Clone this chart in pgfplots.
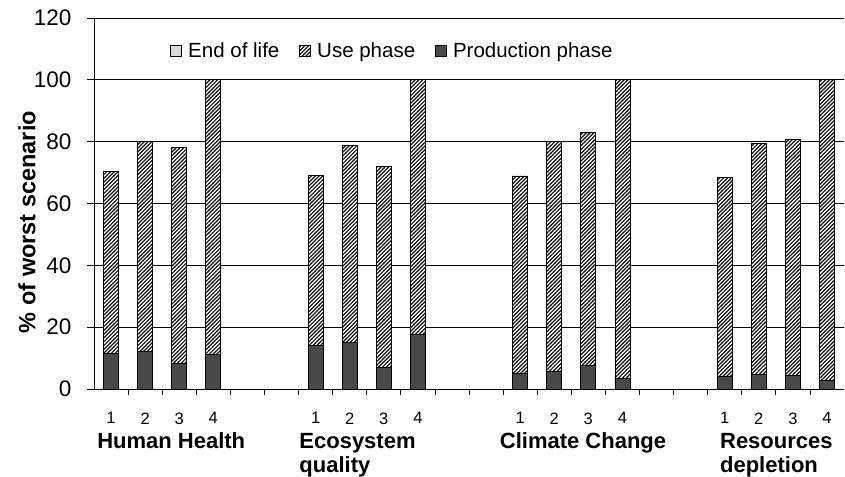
\documentclass[border=0pt]{standalone}
\usepackage{fontspec}
\setmainfont{Liberation Sans}
\usepackage{pgfplots}
\pgfplotsset{compat=1.18}
\usetikzlibrary{patterns}
\definecolor{prod}{HTML}{484848}
\definecolor{eol}{HTML}{DADADA}
\pgfdeclarepatternformonly{hatch}{\pgfqpoint{-1pt}{-1pt}}{\pgfqpoint{4.8pt}{4.8pt}}{\pgfqpoint{3.8pt}{3.8pt}}{%
  \pgfsetlinewidth{1.2pt}%
  \pgfpathmoveto{\pgfqpoint{-0.2pt}{-0.2pt}}%
  \pgfpathlineto{\pgfqpoint{4.0pt}{4.0pt}}%
  \pgfusepath{stroke}}
\tikzset{
  prodstyle/.style={fill=prod, draw=black, line width=0.8pt},
  usestyle/.style={fill=white, draw=black, line width=0.8pt,
    postaction={pattern=hatch, pattern color=black!90}},
  eolstyle/.style={fill=eol, draw=black, line width=0.8pt},
}
\begin{document}
\begin{tikzpicture}
\useasboundingbox (-94pt,-87pt) rectangle (751pt,389pt);
\begin{axis}[
  scale only axis, width=750pt, height=371pt,
  xmin=-0.5, xmax=21.5, ymin=0, ymax=120,
  ybar stacked, bar width=15pt,
  clip=false,
  axis x line*=bottom, axis y line*=left,
  axis line style={black, line width=0.9pt},
  ytick={0,20,...,120},
  ymajorgrids, grid style={black, line width=0.8pt},
  xtick={0,1,2,3,6,7,8,9,12,13,14,15,18,19,20,21},
  xticklabels={1,2,3,4,1,2,3,4,1,2,3,4,1,2,3,4},
  minor xtick={0.5,1.5,...,20.5},
  major x tick style={draw=none},
  minor x tick style={black, line width=0.8pt},
  major y tick style={black, line width=0.8pt},
  tick align=outside, minor tick length=6pt, major tick length=7pt,
  /pgf/number format/assume math mode=true,
  yticklabel style={font=\fontsize{22.5}{25}\selectfont, xshift=-12pt},
  xticklabel style={font=\fontsize{16.5}{19}\selectfont, yshift=-13pt},
  ylabel={\% of worst scenario},
  ylabel style={font=\bfseries\fontsize{23.5}{26}\selectfont, at={(rel axis cs:-0.0893,0.45)}, anchor=center},
  legend style={draw=none, fill=none, at={(rel axis cs:0.398,0.911)}, anchor=center,
    font=\fontsize{20.5}{23}\selectfont, inner sep=0pt,
    /tikz/every even column/.append style={column sep=18pt}},
  legend columns=3,
  legend cell align=left,
  legend image code/.code={\draw[#1] (0pt,-5.5pt) rectangle (11pt,5.5pt); \path (15pt,0pt);},
]
\addlegendimage{eolstyle}
\addlegendentry{End of life}
\addlegendimage{usestyle}
\addlegendentry{Use phase}
\addlegendimage{prodstyle}
\addlegendentry{Production phase}
\addplot[prodstyle, forget plot] table {
x y
0 11.6
1 12.0
2 8.4
3 11.3
6 14.2
7 15.2
8 7.1
9 17.5
12 5.2
13 5.8
14 7.5
15 3.5
18 4.2
19 4.6
20 4.4
21 2.9
};
\addplot[usestyle, forget plot] table {
x y
0 58.9
1 68.0
2 69.6
3 88.7
6 54.8
7 63.5
8 64.8
9 82.5
12 63.7
13 74.2
14 75.6
15 96.5
18 64.3
19 74.9
20 76.4
21 97.1
};
\addplot[eolstyle, forget plot] table {
x y
0 0
1 0
2 0
3 0
6 0
7 0
8 0
9 0
12 0
13 0
14 0
15 0
18 0
19 0
20 0
21 0
};
\node[anchor=base west, inner sep=0pt, yshift=-59pt, font=\bfseries\fontsize{22}{24}\selectfont] at (axis cs:-0.41,0) {Human Health};
\node[anchor=base west, inner sep=0pt, yshift=-59pt, font=\bfseries\fontsize{22}{24}\selectfont] at (axis cs:5.52,0) {Ecosystem};
\node[anchor=base west, inner sep=0pt, yshift=-83pt, font=\bfseries\fontsize{22}{24}\selectfont] at (axis cs:5.52,0) {quality};
\node[anchor=base west, inner sep=0pt, yshift=-59pt, font=\bfseries\fontsize{22}{24}\selectfont] at (axis cs:11.4,0) {Climate Change};
\node[anchor=base west, inner sep=0pt, yshift=-59pt, font=\bfseries\fontsize{22}{24}\selectfont] at (axis cs:17.86,0) {Resources};
\node[anchor=base west, inner sep=0pt, yshift=-83pt, font=\bfseries\fontsize{22}{24}\selectfont] at (axis cs:17.86,0) {depletion};
\end{axis}
\end{tikzpicture}
\end{document}
